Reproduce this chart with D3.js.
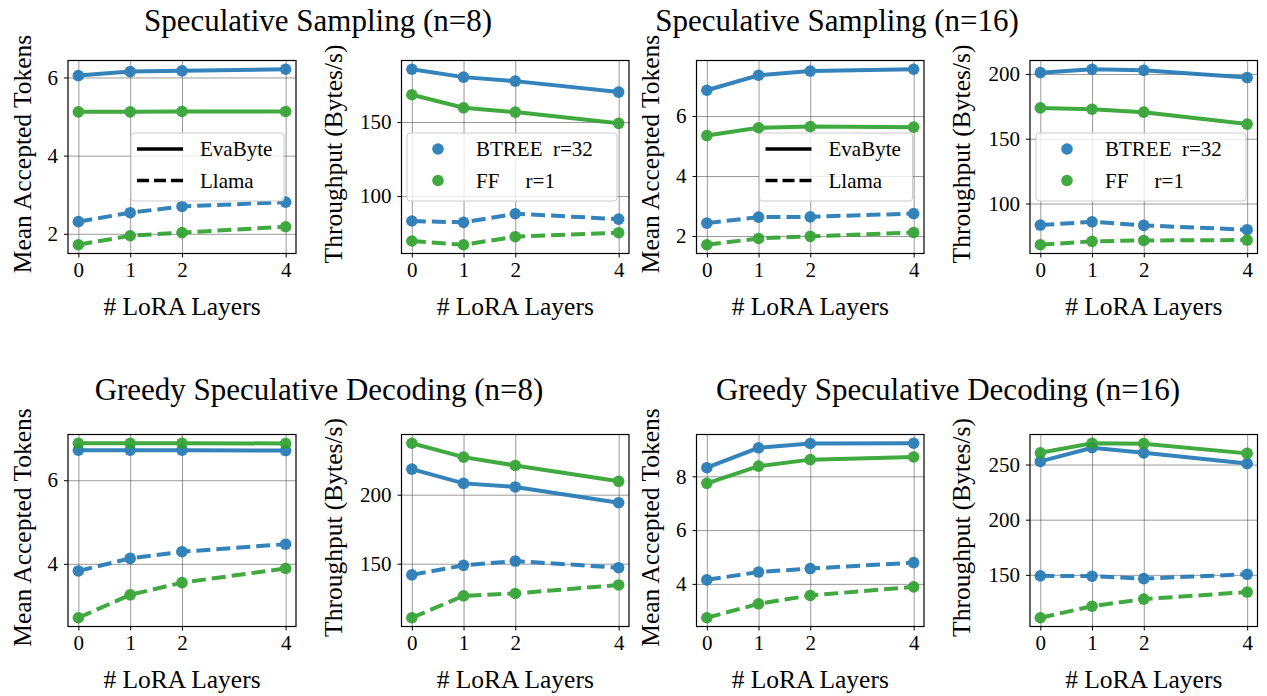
<!DOCTYPE html>
<html>
<head>
<meta charset="utf-8">
<script src="https://cdn.jsdelivr.net/npm/d3@7"></script>
<style>
  html, body { margin: 0; padding: 0; background: #fff; }
  svg text { font-family: "Liberation Serif", "Times New Roman", Times, serif; fill: #000; }
</style>
</head>
<body>
<div id="chart"></div>
<script>
const layers = [0, 1, 2, 4];
const xTickLabels = ['0', '1', '2', '4'];

// Speculative Sampling (n=8)
const ss8TokEvaBtree = [6.05, 6.15, 6.17, 6.21];
const ss8TokEvaFF = [5.12, 5.12, 5.13, 5.13];
const ss8TokLlamaBtree = [2.31, 2.54, 2.70, 2.81];
const ss8TokLlamaFF = [1.72, 1.95, 2.03, 2.18];
const ss8ThrEvaBtree = [185.6, 180.3, 177.6, 170.2];
const ss8ThrEvaFF = [168.4, 159.6, 156.7, 149.1];
const ss8ThrLlamaBtree = [83.2, 82.3, 88.1, 84.5];
const ss8ThrLlamaFF = [69.7, 67.2, 72.6, 75.3];

// Speculative Sampling (n=16)
const ss16TokEvaBtree = [6.86, 7.36, 7.50, 7.56];
const ss16TokEvaFF = [5.35, 5.61, 5.65, 5.63];
const ss16TokLlamaBtree = [2.43, 2.63, 2.64, 2.75];
const ss16TokLlamaFF = [1.71, 1.92, 1.99, 2.12];
const ss16ThrEvaBtree = [201.0, 203.6, 202.8, 197.2];
const ss16ThrEvaFF = [173.8, 172.8, 170.5, 161.3];
const ss16ThrLlamaBtree = [83.4, 85.9, 83.1, 79.8];
const ss16ThrLlamaFF = [68.2, 70.8, 71.5, 71.8];

// Greedy Speculative Decoding (n=8)
const gd8TokEvaBtree = [6.72, 6.72, 6.72, 6.71];
const gd8TokEvaFF = [6.885, 6.885, 6.885, 6.88];
const gd8TokLlamaBtree = [3.83, 4.13, 4.29, 4.47];
const gd8TokLlamaFF = [2.71, 3.26, 3.55, 3.89];
const gd8ThrEvaBtree = [218.5, 208.2, 205.6, 194.2];
const gd8ThrEvaFF = [237.3, 227.2, 221.2, 209.7];
const gd8ThrLlamaBtree = [141.9, 148.8, 151.9, 147.1];
const gd8ThrLlamaFF = [110.8, 126.7, 128.4, 134.6];

// Greedy Speculative Decoding (n=16)
const gd16TokEvaBtree = [8.32, 9.06, 9.22, 9.23];
const gd16TokEvaFF = [7.74, 8.38, 8.62, 8.72];
const gd16TokLlamaBtree = [4.15, 4.44, 4.57, 4.79];
const gd16TokLlamaFF = [2.74, 3.26, 3.57, 3.89];
const gd16ThrEvaBtree = [252.8, 265.2, 260.6, 250.9];
const gd16ThrEvaFF = [260.6, 269.3, 268.9, 260.1];
const gd16ThrLlamaBtree = [149.1, 148.8, 146.6, 150.5];
const gd16ThrLlamaFF = [111.1, 121.6, 128.0, 134.4];

const titles = ['Speculative Sampling (n=8)', 'Speculative Sampling (n=16)',
                'Greedy Speculative Decoding (n=8)', 'Greedy Speculative Decoding (n=16)'];
const tokTicks = { ss8: [2, 4, 6], ss16: [2, 4, 6], gd8: [4, 6], gd16: [4, 6, 8] };
const thrTicks = { ss8: [100, 150], ss16: [100, 150, 200], gd8: [150, 200], gd16: [150, 200, 250] };
const modelNames = ['EvaByte', 'Llama'];
const methodNames = ['BTREE  r=32', 'FF     r=1'];

const colors = { BTREE: '#1f77b4', FF: '#2ca02c' };

const W = 1267, H = 696;
const svg = d3.select('#chart').append('svg').attr('width', W).attr('height', H);

const cols = [[68, 296], [401.5, 629], [696.5, 924], [1030, 1257.5]];
const rows = [[60.5, 253.5], [434.5, 626.5]];

function drawPanel(col, row, lines, ticks, yLabel, labelOff, legend) {
  const [x0, x1] = cols[col], [y0, y1] = rows[row];
  const w = x1 - x0, h = y1 - y0;
  const g = svg.append('g').attr('transform', `translate(${x0},${y0})`);

  const allVals = lines.flatMap(l => l.values);
  const [mn, mx] = d3.extent(allVals);
  const pad = (mx - mn) * 0.05;
  const x = d3.scaleLinear().domain([-0.2, 4.2]).range([0, w]);
  const y = d3.scaleLinear().domain([mn - pad, mx + pad]).range([h, 0]);

  // grid
  g.append('g').attr('class', 'grid')
    .call(d3.axisLeft(y).tickValues(ticks).tickSize(-w).tickFormat(''))
    .call(s => s.select('.domain').remove());
  g.append('g').attr('class', 'grid').attr('transform', `translate(0,${h})`)
    .call(d3.axisBottom(x).tickValues(layers).tickSize(-h).tickFormat(''))
    .call(s => s.select('.domain').remove());
  g.selectAll('.grid line').attr('stroke', '#555').attr('stroke-width', 0.8).attr('stroke-opacity', 0.75);

  // series
  const line = d3.line().x((d, i) => x(layers[i])).y(d => y(d));
  lines.forEach(l => {
    const sg = g.append('g').attr('opacity', 0.9);
    sg.append('path').datum(l.values)
      .attr('d', line)
      .attr('fill', 'none')
      .attr('stroke', l.color)
      .attr('stroke-width', 4)
      .attr('stroke-dasharray', l.dashed ? '14,6' : null);
    sg.selectAll('circle').data(l.values).join('circle')
      .attr('cx', (d, i) => x(layers[i]))
      .attr('cy', d => y(d))
      .attr('r', 5.8)
      .attr('fill', l.color);
  });

  // axes
  const ya = g.append('g')
    .call(d3.axisLeft(y).tickValues(ticks).tickSize(4).tickPadding(6).tickFormat(d3.format('d')));
  const xa = g.append('g').attr('transform', `translate(0,${h})`)
    .call(d3.axisBottom(x).tickValues(layers).tickSize(4).tickPadding(5).tickFormat((d, i) => xTickLabels[i]));
  [ya, xa].forEach(a => {
    a.attr('font-family', null);
    a.select('.domain').remove();
    a.selectAll('line').attr('stroke', '#000').attr('stroke-width', 1);
    a.selectAll('text').style('font-size', '21px').attr('fill', '#000');
  });

  g.append('rect').attr('width', w).attr('height', h)
    .attr('fill', 'none').attr('stroke', '#000').attr('stroke-width', 1.2);

  g.append('text')
    .attr('transform', `translate(${-labelOff},${h / 2 - 3}) rotate(-90)`)
    .attr('text-anchor', 'middle').attr('dominant-baseline', 'central')
    .style('font-size', '25.5px').text(yLabel);
  g.append('text')
    .attr('x', w / 2).attr('y', h + 61.5)
    .attr('text-anchor', 'middle')
    .style('font-size', '25.5px').text('# LoRA Layers');

  if (legend) {
    const lg = g.append('g').attr('transform', `translate(${legend.x},72.5)`);
    lg.append('rect').attr('width', legend.w).attr('height', 68).attr('rx', 3)
      .attr('fill', '#fff').attr('fill-opacity', 0.8)
      .attr('stroke', '#cccccc').attr('stroke-width', 1);
    legend.items.forEach((it, i) => {
      const cy = 16 + i * 31.5;
      if (legend.type === 'line') {
        lg.append('line').attr('x1', 6).attr('x2', 52).attr('y1', cy).attr('y2', cy)
          .attr('stroke', '#000').attr('stroke-width', 3.5)
          .attr('stroke-dasharray', it.dashed ? '12,5' : null);
      } else {
        lg.append('circle').attr('cx', 31).attr('cy', cy).attr('r', 5.8)
          .attr('fill', it.color).attr('opacity', 0.9);
      }
      lg.append('text').attr('x', 69).attr('y', cy + 7)
        .style('font-size', '21px').style('white-space', 'pre').attr('xml:space', 'preserve')
        .text(it.label);
    });
  }
}

function mk(evaB, evaF, llB, llF) {
  return [
    { values: evaB, color: colors.BTREE, dashed: false },
    { values: evaF, color: colors.FF, dashed: false },
    { values: llB, color: colors.BTREE, dashed: true },
    { values: llF, color: colors.FF, dashed: true }
  ];
}

const lineLegend = (x) => ({ type: 'line', x: x, w: 153,
  items: modelNames.map((m, i) => ({ label: m, dashed: i === 1 })) });
const dotLegend = (x) => ({ type: 'dot', x: x, w: 210,
  items: methodNames.map((m, i) => ({ label: m, color: i === 0 ? colors.BTREE : colors.FF })) });

drawPanel(0, 0, mk(ss8TokEvaBtree, ss8TokEvaFF, ss8TokLlamaBtree, ss8TokLlamaFF), tokTicks.ss8, 'Mean Accepted Tokens', 46, lineLegend(63));
drawPanel(1, 0, mk(ss8ThrEvaBtree, ss8ThrEvaFF, ss8ThrLlamaBtree, ss8ThrLlamaFF), thrTicks.ss8, 'Throughput (Bytes/s)', 68.5, dotLegend(5.5));
drawPanel(2, 0, mk(ss16TokEvaBtree, ss16TokEvaFF, ss16TokLlamaBtree, ss16TokLlamaFF), tokTicks.ss16, 'Mean Accepted Tokens', 46, lineLegend(63));
drawPanel(3, 0, mk(ss16ThrEvaBtree, ss16ThrEvaFF, ss16ThrLlamaBtree, ss16ThrLlamaFF), thrTicks.ss16, 'Throughput (Bytes/s)', 68.5, dotLegend(6));
drawPanel(0, 1, mk(gd8TokEvaBtree, gd8TokEvaFF, gd8TokLlamaBtree, gd8TokLlamaFF), tokTicks.gd8, 'Mean Accepted Tokens', 46, null);
drawPanel(1, 1, mk(gd8ThrEvaBtree, gd8ThrEvaFF, gd8ThrLlamaBtree, gd8ThrLlamaFF), thrTicks.gd8, 'Throughput (Bytes/s)', 68.5, null);
drawPanel(2, 1, mk(gd16TokEvaBtree, gd16TokEvaFF, gd16TokLlamaBtree, gd16TokLlamaFF), tokTicks.gd16, 'Mean Accepted Tokens', 46, null);
drawPanel(3, 1, mk(gd16ThrEvaBtree, gd16ThrEvaFF, gd16ThrLlamaBtree, gd16ThrLlamaFF), thrTicks.gd16, 'Throughput (Bytes/s)', 68.5, null);

// subfigure titles
const titlePos = [[318, 31], [837, 31], [319, 400], [948, 400]];
titles.forEach((t, i) => {
  svg.append('text').attr('x', titlePos[i][0]).attr('y', titlePos[i][1])
    .attr('text-anchor', 'middle').style('font-size', '31px').text(t);
});
</script>
</body>
</html>
